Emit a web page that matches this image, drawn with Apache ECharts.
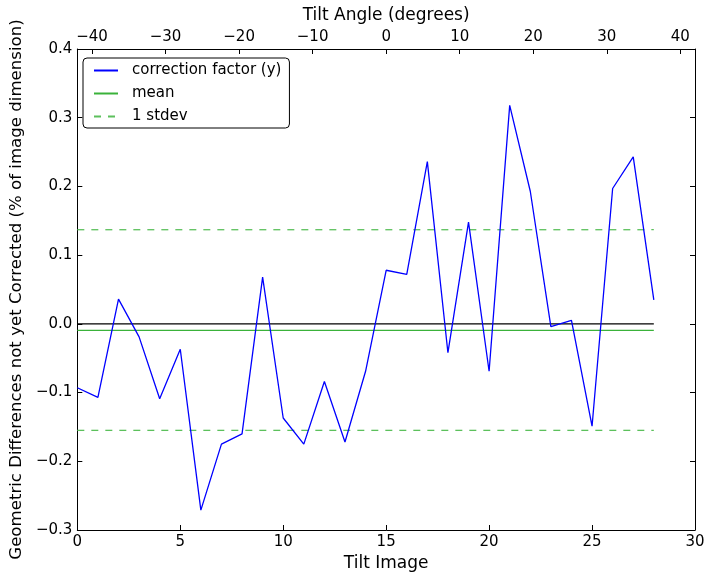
<!DOCTYPE html>
<html>
<head>
<meta charset="utf-8">
<script src="https://cdn.jsdelivr.net/npm/echarts@6/dist/echarts.min.js"></script>
<style>html,body{margin:0;padding:0;background:#fff;}#c{width:714px;height:579px;}</style>
</head>
<body>
<div id="c"></div>
<script>
const tiltImages = [0,1,2,3,4,5,6,7,8,9,10,11,12,13,14,15,16,17,18,19,20,21,22,23,24,25,26,27,28];
const correctionY = [-0.093,-0.107,0.036,-0.019,-0.109,-0.037,-0.271,-0.175,-0.160,0.068,-0.137,-0.175,-0.084,-0.172,-0.069,0.078,0.072,0.236,-0.042,0.148,-0.069,0.318,0.193,-0.004,0.005,-0.149,0.197,0.243,0.035];
const meanValue = -0.0095;
const stdevHigh = 0.137;
const stdevLow = -0.155;
const lineStart = 0, lineEnd = 28;
const angleTicks = [-40,-30,-20,-10,0,10,20,30,40];

const FONT = 'DejaVu Sans';
const fmtNum = (v, d) => {
  const s = Math.abs(v).toFixed(d);
  return (v < -1e-9 ? '\u2212' : '') + s;
};
const pair = (v) => [[lineStart, v],[lineEnd, v]];

const chart = echarts.init(document.getElementById('c'), null, {renderer:'canvas'});
chart.setOption({
  animation: false,
  backgroundColor: '#fff',
  textStyle: {fontFamily: FONT},
  grid: {left: 76, right: 19, top: 49, bottom: 49, containLabel: false},
  legend: {
    left: 83, top: 58,
    orient: 'vertical',
    itemWidth: 24, itemHeight: 14, itemGap: 8,
    padding: [5, 8, 4, 10],
    borderColor: '#000', borderWidth: 1, borderRadius: 4,
    backgroundColor: '#fff',
    itemStyle: {opacity: 0},
    textStyle: {fontFamily: FONT, fontSize: 15, color: '#000', padding: [0,0,0,9]},
    data: ['correction factor (y)', 'mean', '1 stdev']
  },
  xAxis: [
    {
      type: 'value', position: 'bottom', min: 0, max: 30, interval: 5,
      name: 'Tilt Image', nameLocation: 'middle', nameGap: 21,
      nameTextStyle: {fontFamily: FONT, fontSize: 17, color: '#000'},
      axisLine: {show: true, onZero: false, lineStyle: {color: '#000', width: 1}},
      axisTick: {show: true, inside: true, length: 5, lineStyle: {color: '#000'}},
      axisLabel: {fontFamily: FONT, fontSize: 15, color: '#000', margin: 5, formatter: v => fmtNum(v, 0)},
      splitLine: {show: false}
    },
    {
      type: 'value', position: 'top', min: -42, max: 42,
      name: 'Tilt Angle (degrees)', nameLocation: 'middle', nameGap: 25,
      nameTextStyle: {fontFamily: FONT, fontSize: 17, color: '#000'},
      axisLine: {show: true, onZero: false, lineStyle: {color: '#000', width: 1}},
      axisTick: {show: true, inside: true, length: 5, lineStyle: {color: '#000'},
        customValues: angleTicks},
      axisLabel: {fontFamily: FONT, fontSize: 15, color: '#000', margin: 4, formatter: v => fmtNum(v, 0),
        customValues: angleTicks},
      splitLine: {show: false}
    }
  ],
  yAxis: [
    {
      type: 'value', position: 'left', min: -0.3, max: 0.4, interval: 0.1,
      name: 'Geometric Differences not yet Corrected (% of image dimension)',
      nameLocation: 'middle', nameGap: 52, nameRotate: 90,
      nameTextStyle: {fontFamily: FONT, fontSize: 16.6, color: '#000'},
      axisLine: {show: true, onZero: false, lineStyle: {color: '#000', width: 1}},
      axisTick: {show: true, inside: true, length: 5, lineStyle: {color: '#000'}},
      axisLabel: {fontFamily: FONT, fontSize: 15, color: '#000', margin: 5, formatter: v => fmtNum(v, 1)},
      splitLine: {show: false}
    },
    {
      type: 'value', position: 'right', min: -0.3, max: 0.4, interval: 0.1,
      axisLine: {show: true, onZero: false, lineStyle: {color: '#000', width: 1}},
      axisTick: {show: true, inside: true, length: 5, lineStyle: {color: '#000'}},
      axisLabel: {show: false},
      splitLine: {show: false}
    }
  ],
  series: [
    {
      name: 'zero', type: 'line', xAxisIndex: 0, yAxisIndex: 0,
      data: pair(0), symbol: 'none', silent: true,
      lineStyle: {color: '#000', width: 1.3}, z: 2
    },
    {
      name: 'correction factor (y)', type: 'line', xAxisIndex: 0, yAxisIndex: 0,
      data: tiltImages.map((x, i) => [x, correctionY[i]]),
      symbol: 'none', color: '#0000ff',
      lineStyle: {color: '#0000ff', width: 1.3}, z: 4
    },
    {
      name: 'mean', type: 'line', xAxisIndex: 0, yAxisIndex: 0,
      data: pair(meanValue), symbol: 'none', color: '#3ab23a',
      lineStyle: {color: '#3ab23a', width: 1.3}, z: 3
    },
    {
      name: '1 stdev', type: 'line', xAxisIndex: 0, yAxisIndex: 0,
      data: pair(stdevHigh), symbol: 'none', color: '#5cc05c',
      lineStyle: {color: '#5cc05c', width: 1.3, type: [7, 7]}, z: 3
    },
    {
      name: '1 stdev', type: 'line', xAxisIndex: 0, yAxisIndex: 0,
      data: pair(stdevLow), symbol: 'none', color: '#5cc05c',
      lineStyle: {color: '#5cc05c', width: 1.3, type: [7, 7]}, z: 3
    }
  ]
});
</script>
</body>
</html>
